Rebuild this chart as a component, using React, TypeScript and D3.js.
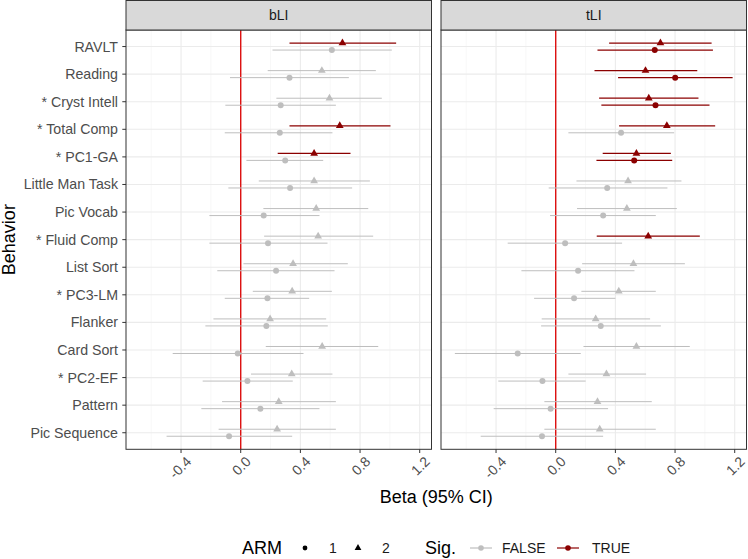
import React, { useEffect, useRef } from "react"
import * as d3 from "d3"

const W = 748
const H = 559

const behaviors = [
  "RAVLT",
  "Reading",
  "* Cryst Intell",
  "* Total Comp",
  "* PC1-GA",
  "Little Man Task",
  "Pic Vocab",
  "* Fluid Comp",
  "List Sort",
  "* PC3-LM",
  "Flanker",
  "Card Sort",
  "* PC2-EF",
  "Pattern",
  "Pic Sequence",
]
const facets = ["bLI", "tLI"]
const xTicks = [-0.4, 0.0, 0.4, 0.8, 1.2]
const xMinor = [-0.6, -0.2, 0.2, 0.6, 1.0]

// [beta, lower, upper, significant]
const bliArm1 = [
  [0.611, 0.213, 1.013, 0],
  [0.327, -0.072, 0.725, 0],
  [0.268, -0.103, 0.638, 0],
  [0.262, -0.107, 0.615, 0],
  [0.298, 0.038, 0.553, 0],
  [0.331, -0.083, 0.747, 0],
  [0.154, -0.21, 0.528, 0],
  [0.183, -0.21, 0.582, 0],
  [0.237, -0.157, 0.629, 0],
  [0.179, -0.107, 0.459, 0],
  [0.172, -0.237, 0.584, 0],
  [-0.02, -0.456, 0.421, 0],
  [0.045, -0.255, 0.349, 0],
  [0.132, -0.264, 0.528, 0],
  [-0.078, -0.497, 0.345, 0],
]
const bliArm2 = [
  [0.682, 0.327, 1.042, 1],
  [0.544, 0.181, 0.906, 0],
  [0.595, 0.239, 0.946, 0],
  [0.664, 0.327, 1.004, 1],
  [0.492, 0.248, 0.736, 1],
  [0.492, 0.121, 0.866, 0],
  [0.506, 0.152, 0.855, 0],
  [0.519, 0.157, 0.888, 0],
  [0.351, 0.018, 0.718, 0],
  [0.345, 0.081, 0.611, 0],
  [0.197, -0.183, 0.573, 0],
  [0.546, 0.168, 0.922, 0],
  [0.342, 0.069, 0.615, 0],
  [0.255, -0.125, 0.638, 0],
  [0.244, -0.148, 0.638, 0],
]
const tliArm1 = [
  [0.664, 0.28, 1.054, 1],
  [0.801, 0.418, 1.186, 1],
  [0.669, 0.306, 1.031, 1],
  [0.438, 0.085, 0.794, 0],
  [0.526, 0.273, 0.781, 1],
  [0.345, -0.047, 0.749, 0],
  [0.318, -0.038, 0.671, 0],
  [0.063, -0.322, 0.445, 0],
  [0.15, -0.23, 0.528, 0],
  [0.123, -0.145, 0.4, 0],
  [0.302, -0.098, 0.705, 0],
  [-0.255, -0.676, 0.168, 0],
  [-0.089, -0.385, 0.201, 0],
  [-0.034, -0.416, 0.351, 0],
  [-0.092, -0.503, 0.318, 0],
]
const tliArm2 = [
  [0.702, 0.358, 1.045, 1],
  [0.602, 0.26, 0.949, 1],
  [0.624, 0.291, 0.957, 1],
  [0.745, 0.425, 1.069, 1],
  [0.541, 0.315, 0.772, 1],
  [0.485, 0.139, 0.843, 0],
  [0.477, 0.143, 0.812, 0],
  [0.62, 0.275, 0.966, 1],
  [0.521, 0.177, 0.866, 0],
  [0.423, 0.172, 0.671, 0],
  [0.268, -0.094, 0.633, 0],
  [0.541, 0.186, 0.899, 0],
  [0.34, 0.085, 0.606, 0],
  [0.28, -0.076, 0.644, 0],
  [0.295, -0.076, 0.671, 0],
]
const facetData = [
  [bliArm1, bliArm2],
  [tliArm1, tliArm2],
]

const GREY = "#bebebe"
const DARKRED = "#8b0000"
const FONT = "Liberation Sans, Arial, sans-serif"

const panelTop = 30
const panelBottom = 449.3
const panelX = [126, 441]
const panelW = 305.5
const stripH = 30

export default function App() {
  const ref = useRef<SVGSVGElement>(null)

  useEffect(() => {
    const svg = d3.select(ref.current)
    svg.selectAll("*").remove()

    const y = d3
      .scalePoint()
      .domain(behaviors)
      .range([panelTop, panelBottom])
      .padding(0.6)

    const tri = d3.symbol().type(d3.symbolTriangle).size(26)
    const colorOf = (s: number) => (s ? DARKRED : GREY)

    facets.forEach((name, fi) => {
      const x0 = panelX[fi]
      const x = d3.scaleLinear().domain([-0.769, 1.279]).range([x0, x0 + panelW])
      const g = svg.append("g")

      // panel background + grid
      g.append("rect")
        .attr("x", x0)
        .attr("y", panelTop)
        .attr("width", panelW)
        .attr("height", panelBottom - panelTop)
        .attr("fill", "white")
      xMinor.forEach((v) => {
        g.append("line")
          .attr("x1", x(v)).attr("x2", x(v))
          .attr("y1", panelTop).attr("y2", panelBottom)
          .attr("stroke", "#f4f4f4").attr("stroke-width", 0.6)
      })
      xTicks.forEach((v) => {
        g.append("line")
          .attr("x1", x(v)).attr("x2", x(v))
          .attr("y1", panelTop).attr("y2", panelBottom)
          .attr("stroke", "#ebebeb").attr("stroke-width", 1.1)
      })
      behaviors.forEach((b) => {
        g.append("line")
          .attr("x1", x0).attr("x2", x0 + panelW)
          .attr("y1", y(b)!).attr("y2", y(b)!)
          .attr("stroke", "#ebebeb").attr("stroke-width", 1.1)
      })

      // zero line
      g.append("line")
        .attr("x1", x(0)).attr("x2", x(0))
        .attr("y1", panelTop).attr("y2", panelBottom)
        .attr("stroke", "#dd1111").attr("stroke-width", 1.4)

      // error bars and points; arm 2 above, arm 1 below
      facetData[fi].forEach((rows, ai) => {
        const dy = ai === 0 ? 3.5 : -3.5
        rows.forEach((r, i) => {
          const cy = y(behaviors[i])! + dy
          const c = colorOf(r[3])
          g.append("line")
            .attr("x1", x(r[1])).attr("x2", x(r[2]))
            .attr("y1", cy).attr("y2", cy)
            .attr("stroke", c).attr("stroke-width", r[3] ? 1.3 : 1)
          if (ai === 0) {
            g.append("circle")
              .attr("cx", x(r[0])).attr("cy", cy).attr("r", 3)
              .attr("fill", c)
          } else {
            g.append("path")
              .attr("d", tri()!)
              .attr("transform", `translate(${x(r[0])},${cy})`)
              .attr("fill", c)
          }
        })
      })

      // panel border
      g.append("rect")
        .attr("x", x0)
        .attr("y", panelTop)
        .attr("width", panelW)
        .attr("height", panelBottom - panelTop)
        .attr("fill", "none")
        .attr("stroke", "#333333")
        .attr("stroke-width", 1)

      // strip
      g.append("rect")
        .attr("x", x0)
        .attr("y", panelTop - stripH + 0.5)
        .attr("width", panelW)
        .attr("height", stripH - 0.5)
        .attr("fill", "#d9d9d9")
        .attr("stroke", "#333333")
        .attr("stroke-width", 1)
      g.append("text")
        .attr("x", x0 + panelW / 2)
        .attr("y", panelTop - stripH / 2)
        .attr("dy", "0.35em")
        .attr("text-anchor", "middle")
        .attr("font-family", FONT)
        .attr("font-size", 14)
        .attr("fill", "#1a1a1a")
        .text(name)

      // x axis ticks + labels
      xTicks.forEach((v) => {
        g.append("line")
          .attr("x1", x(v)).attr("x2", x(v))
          .attr("y1", panelBottom).attr("y2", panelBottom + 3.7)
          .attr("stroke", "#333333").attr("stroke-width", 1)
        g.append("text")
          .attr("transform", `translate(${x(v) + 4},${panelBottom + 6}) rotate(-45)`)
          .attr("text-anchor", "end")
          .attr("dy", "0.72em")
          .attr("font-family", FONT)
          .attr("font-size", 14)
          .attr("fill", "#4d4d4d")
          .text(v.toFixed(1))
      })
    })

    // y axis ticks + labels
    const ya = svg.append("g")
    behaviors.forEach((b) => {
      ya.append("line")
        .attr("x1", panelX[0] - 3.7).attr("x2", panelX[0])
        .attr("y1", y(b)!).attr("y2", y(b)!)
        .attr("stroke", "#333333").attr("stroke-width", 1)
      ya.append("text")
        .attr("x", panelX[0] - 8)
        .attr("y", y(b)!)
        .attr("dy", "0.35em")
        .attr("text-anchor", "end")
        .attr("font-family", FONT)
        .attr("font-size", 14.2)
        .attr("fill", "#4d4d4d")
        .text(b)
    })

    // axis titles
    svg.append("text")
      .attr("transform", `translate(15,${(panelTop + panelBottom) / 2}) rotate(-90)`)
      .attr("text-anchor", "middle")
      .attr("font-family", FONT)
      .attr("font-size", 18)
      .attr("fill", "black")
      .text("Behavior")
    svg.append("text")
      .attr("x", (panelX[0] + panelX[1] + panelW) / 2)
      .attr("y", 503)
      .attr("text-anchor", "middle")
      .attr("font-family", FONT)
      .attr("font-size", 18)
      .attr("fill", "black")
      .text("Beta (95% CI)")

    // legend
    const lg = svg.append("g").attr("font-family", FONT)
    const ly = 548
    lg.append("text").attr("x", 242).attr("y", ly).attr("dy", "0.35em")
      .attr("font-size", 18).text("ARM")
    lg.append("circle").attr("cx", 305).attr("cy", ly).attr("r", 2.4).attr("fill", "black")
    lg.append("text").attr("x", 329).attr("y", ly).attr("dy", "0.35em")
      .attr("font-size", 14).attr("fill", "#1a1a1a").text("1")
    lg.append("path").attr("d", d3.symbol().type(d3.symbolTriangle).size(20)()!)
      .attr("transform", `translate(358,${ly})`).attr("fill", "black")
    lg.append("text").attr("x", 382).attr("y", ly).attr("dy", "0.35em")
      .attr("font-size", 14).attr("fill", "#1a1a1a").text("2")
    lg.append("text").attr("x", 425).attr("y", ly).attr("dy", "0.35em")
      .attr("font-size", 18).text("Sig.")
    const sig = [
      { c: GREY, x: 470, label: "FALSE", lx: 502 },
      { c: DARKRED, x: 557, label: "TRUE", lx: 592 },
    ]
    sig.forEach((s) => {
      lg.append("line").attr("x1", s.x).attr("x2", s.x + 22)
        .attr("y1", ly).attr("y2", ly).attr("stroke", s.c).attr("stroke-width", 1.2)
      lg.append("circle").attr("cx", s.x + 11).attr("cy", ly).attr("r", 2.8).attr("fill", s.c)
      lg.append("text").attr("x", s.lx).attr("y", ly).attr("dy", "0.35em")
        .attr("font-size", 14).attr("fill", "#1a1a1a").text(s.label)
    })
  }, [])

  return (
    <svg
      ref={ref}
      width={W}
      height={H}
      style={{ position: "absolute", left: 0, top: 0, background: "white" }}
    />
  )
}
